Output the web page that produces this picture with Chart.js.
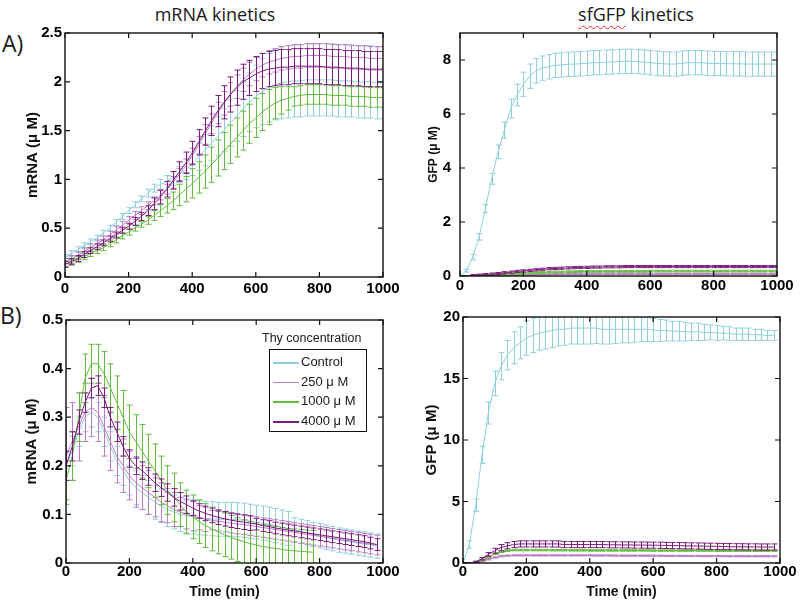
<!DOCTYPE html>
<html lang="en">
<head>
  <meta charset="UTF-8" />
  <title>mRNA and sfGFP kinetics</title>
  <script src="https://cdn.jsdelivr.net/npm/chart.js"></script>
  <style>
    body { margin: 0; background: #fff; }
    #fig { position: relative; width: 800px; height: 603px; overflow: hidden; color: #1a1a1a;
           font-family: 'Liberation Sans', Arial, sans-serif; }
    #fig canvas { position: absolute; }
    .head { position: absolute; top: 2px; font-family: 'Open Sans', sans-serif; font-size: 18px; text-align: center; }
    .squiggle { text-decoration: underline wavy #e03030; text-decoration-thickness: 1px; text-underline-offset: 4px; }
    .tag { position: absolute; font-family: 'Open Sans', sans-serif; font-size: 23px; line-height: 1; }
    #legend-title { position: absolute; left: 262px; top: 330px; font-size: 12.5px; line-height: 16px; }
    #legend { position: absolute; left: 269px; top: 349px; width: 96px; height: 81px; border: 1.5px solid #111; }
    #legend .row { position: absolute; left: 0; height: 16px; line-height: 16px; font-size: 13px; }
    #legend .swatch { position: absolute; left: 3px; top: 8px; width: 26px; height: 1.5px; }
    #legend .label { position: absolute; left: 31px; white-space: nowrap; }
  </style>
</head>
<body>
<div id="fig">
  <div class="head" style="left:0;width:430px">mRNA kinetics</div>
  <div class="head" style="left:536px;width:200px"><span class="squiggle">sfGFP</span> kinetics</div>
  <div class="tag" style="left:2px;top:32px">A)</div>
  <div class="tag" style="left:0;top:304px">B)</div>

  <canvas id="mrnaA" width="400" height="280" style="left:0;top:20px"></canvas>
  <canvas id="gfpA" width="400" height="280" style="left:400px;top:20px"></canvas>
  <canvas id="mrnaB" width="400" height="298" style="left:0;top:305px"></canvas>
  <canvas id="gfpB" width="400" height="298" style="left:400px;top:305px"></canvas>

  <div id="legend-title">Thy concentration</div>
  <div id="legend"></div>
</div>

<script>
  // series
  const seriesNames = ['Control', '250 \u03bc M', '1000 \u03bc M', '4000 \u03bc M'];
  const seriesColors = ['#8fd0da', '#b97cc4', '#62bd3c', '#7c1a7c'];

  // ticks
  const xTicks = [0, 200, 400, 600, 800, 1000];
  const yTicksMrnaA = [0, 0.5, 1, 1.5, 2, 2.5];
  const yTicksGfpA = [0, 2, 4, 6, 8];
  const yTicksMrnaB = [0, 0.1, 0.2, 0.3, 0.4, 0.5];
  const yTicksGfpB = [0, 5, 10, 15, 20];

  // time points (min)
  const timeA = [0,20,40,60,80,100,120,140,160,180,200,220,240,260,280,300,320,340,360,380,400,420,440,460,480,500,
                 520,540,560,580,600,620,640,660,680,700,720,740,760,780,800,820,840,860,880,900,920,940,960,980,1000];
  const timeB = [0,20,40,60,80,100,120,140,160,180,200,220,240,260,280,300,320,340,360,380,400,420,440,460,480,500,
                 520,540,560,580,600,620,640,660,680,700,720,740,760,780,800,820,840,860,880,900,920,940,960,980];

  // A) mRNA, mean and error
  const mrnaA_ctrl = [.20,.24,.28,.32,.36,.40,.45,.50,.56,.62, .68,.74,.80,.86,.91,.95,.98,1.01,1.05,1.10,
                      1.16,1.23,1.30,1.37,1.44,1.51,1.58,1.65,1.72,1.79, 1.85,1.90,1.94,1.97,1.99,2.00,2.01,2.01,2.02,2.02,
                      2.02,2.02,2.02,2.01,2.01,2.01,2.00,2.00,2.00,1.99,1.99];
  const mrnaA_ctrl_err = [.03,.03,.03,.03,.03,.03,.03,.03,.03,.03, .03,.03,.03,.04,.04,.05,.06,.07,.08,.10,
                          .12,.14,.16,.18,.20,.22,.24,.26,.28,.30, .32,.34,.35,.36,.37,.37,.37,.37,.37,.37,
                          .37,.37,.37,.37,.37,.37,.37,.37,.37,.37,.37];
  const mrnaA_250 = [.15,.18,.22,.26,.30,.34,.38,.43,.48,.53, .58,.63,.68,.73,.78,.84,.90,.97,1.05,1.14,
                     1.24,1.35,1.46,1.57,1.68,1.78,1.87,1.95,2.02,2.08, 2.13,2.17,2.20,2.22,2.24,2.25,2.26,2.26,2.27,2.27,
                     2.27,2.27,2.26,2.26,2.26,2.25,2.25,2.25,2.24,2.24,2.24];
  const mrnaA_250_err = [.04,.04,.04,.04,.04,.04,.04,.04,.04,.04, .04,.04,.04,.04,.04,.05,.05,.06,.06,.07,
                         .08,.09,.10,.10,.11,.12,.12,.12,.12,.12, .12,.12,.12,.12,.12,.12,.12,.12,.12,.12,
                         .12,.12,.12,.12,.12,.12,.12,.12,.12,.12,.12];
  const mrnaA_1000 = [.13,.15,.18,.21,.24,.27,.30,.34,.38,.42, .46,.50,.54,.58,.63,.68,.73,.78,.84,.90,
                      .96,1.02,1.08,1.15,1.22,1.29,1.36,1.43,1.50,1.57, 1.63,1.69,1.74,1.78,1.81,1.83,1.85,1.86,1.87,1.87,
                      1.87,1.87,1.86,1.86,1.86,1.85,1.85,1.85,1.84,1.84,1.84];
  const mrnaA_1000_err = [.03,.03,.03,.03,.03,.03,.03,.03,.03,.03, .03,.03,.03,.04,.05,.06,.075,.09,.11,.13,
                          .15,.16,.17,.18,.185,.19,.195,.20,.20,.20, .20,.19,.18,.16,.14,.12,.10,.10,.10,.10,
                          .10,.10,.10,.10,.10,.10,.10,.10,.10,.10,.10];
  const mrnaA_4000 = [.13,.16,.19,.23,.27,.31,.35,.39,.43,.48, .52,.57,.62,.68,.75,.82,.90,.99,1.08,1.17,
                      1.27,1.38,1.49,1.60,1.70,1.79,1.87,1.94,2.00,2.04, 2.08,2.11,2.13,2.14,2.15,2.15,2.16,2.16,2.16,2.16,
                      2.16,2.15,2.15,2.15,2.14,2.14,2.14,2.13,2.13,2.13,2.13];
  const mrnaA_4000_err = [.03,.03,.03,.03,.03,.03,.03,.03,.03,.03, .03,.04,.04,.05,.06,.07,.08,.09,.10,.11,
                          .12,.13,.14,.15,.16,.17,.18,.18,.18,.18, .18,.18,.18,.18,.18,.18,.18,.18,.18,.18,
                          .18,.18,.18,.18,.18,.18,.18,.18,.18,.18,.18];

  // A) sfGFP
  const gfpA_ctrl = [0,.2,.7,1.45,2.5,3.6,4.6,5.4,6.2,6.7, 7.1,7.4,7.6,7.7,7.75,7.8,7.82,7.84,7.85,7.86,
                     7.88,7.9,7.9,7.92,7.93,7.94,7.95,7.95,7.94,7.92, 7.9,7.88,7.86,7.85,7.85,7.88,7.9,7.9,7.9,7.88,
                     7.87,7.87,7.86,7.86,7.86,7.85,7.85,7.85,7.85,7.85,7.85];
  const gfpA_ctrl_err = [0,.05,.1,.12,.15,.2,.25,.3,.35,.4, .45,.45,.45,.45,.45,.45,.45,.45,.45,.45,
                         .45,.45,.45,.45,.45,.45,.45,.45,.45,.45, .45,.45,.45,.45,.45,.45,.45,.45,.45,.45,
                         .45,.45,.45,.45,.45,.45,.45,.45,.45,.45,.45];
  const gfpA_250 = [0,0,.01,.01,.02,.02,.03,.03,.04,.04, .05,.05,.06,.06,.06,.07,.07,.07,.07,.08,
                    .08,.08,.08,.08,.08,.08,.08,.08,.08,.08, .08,.08,.08,.08,.08,.08,.08,.08,.08,.08,
                    .08,.08,.08,.08,.08,.08,.08,.08,.08,.08,.08];
  const gfpA_250_err = [0,0,.02,.02,.02,.02,.02,.02,.02,.02, .02,.02,.02,.02,.02,.02,.02,.02,.02,.02,
                        .02,.02,.02,.02,.02,.02,.02,.02,.02,.02, .02,.02,.02,.02,.02,.02,.02,.02,.02,.02,
                        .02,.02,.02,.02,.02,.02,.02,.02,.02,.02,.02];
  const gfpA_1000 = [0,0,.01,.02,.03,.04,.05,.06,.08,.09, .10,.11,.12,.13,.14,.15,.15,.16,.16,.17,
                     .17,.17,.17,.17,.17,.17,.17,.17,.17,.17, .18,.18,.18,.18,.18,.18,.18,.18,.18,.18,
                     .18,.18,.18,.18,.18,.18,.18,.18,.18,.18,.18];
  const gfpA_1000_err = [0,0,.03,.03,.03,.03,.03,.03,.03,.03, .03,.03,.03,.03,.03,.03,.03,.03,.03,.03,
                         .03,.03,.03,.03,.03,.03,.03,.03,.03,.03, .03,.03,.03,.03,.03,.03,.03,.03,.03,.03,
                         .03,.03,.03,.03,.03,.03,.03,.03,.03,.03,.03];
  const gfpA_4000 = [0,0,.01,.03,.05,.07,.09,.12,.14,.17, .19,.21,.23,.25,.27,.28,.29,.30,.31,.32,
                     .32,.33,.33,.34,.34,.34,.35,.35,.35,.35, .35,.35,.35,.35,.35,.35,.35,.35,.35,.35,
                     .35,.35,.35,.35,.35,.35,.35,.35,.35,.35,.35];
  const gfpA_4000_err = [0,0,.04,.04,.04,.04,.04,.04,.04,.04, .04,.04,.04,.04,.04,.04,.04,.04,.04,.04,
                         .04,.04,.04,.04,.04,.04,.04,.04,.04,.04, .04,.04,.04,.04,.04,.04,.04,.04,.04,.04,
                         .04,.04,.04,.04,.04,.04,.04,.04,.04,.04,.04];

  // B) mRNA
  const mrnaB_ctrl = [.20,.23,.27,.30,.31,.30,.27,.24,.21,.19, .17,.155,.145,.135,.125,.118,.11,.105,.10,.097,
                      .095,.093,.092,.091,.09,.09,.09,.089,.088,.086, .084,.082,.08,.077,.074,.071,.068,.065,.062,.059,
                      .056,.053,.05,.047,.045,.043,.041,.039,.037,.035];
  const mrnaB_ctrl_err = [.03,.03,.03,.03,.03,.03,.03,.03,.03,.03, .03,.035,.035,.035,.035,.035,.035,.035,.035,.035,
                          .035,.035,.035,.035,.035,.035,.035,.035,.035,.035, .035,.035,.035,.035,.035,.035,.025,.025,.025,.025,
                          .025,.025,.025,.025,.025,.025,.025,.025,.025,.025];
  const mrnaB_250 = [.22,.25,.28,.31,.32,.31,.28,.25,.22,.20, .18,.165,.155,.145,.135,.125,.118,.11,.105,.10,
                     .096,.093,.09,.088,.086,.084,.082,.08,.079,.077, .075,.073,.071,.069,.067,.065,.063,.061,.059,.057,
                     .055,.053,.051,.049,.047,.045,.043,.041,.039,.037];
  const mrnaB_250_err = [.10,.08,.07,.06,.06,.06,.06,.06,.055,.055, .05,.05,.045,.045,.04,.04,.035,.035,.03,.03,
                         .03,.025,.025,.02,.02,.02,.02,.02,.02,.02, .02,.02,.02,.02,.02,.02,.02,.02,.02,.02,
                         .02,.02,.02,.02,.02,.02,.02,.02,.02,.02];
  const mrnaB_1000 = [.17,.22,.30,.38,.41,.41,.39,.36,.33,.30, .27,.25,.23,.21,.19,.17,.15,.135,.12,.105,
                      .095,.085,.077,.07,.064,.058,.053,.048,.044,.04, .037,.034,.032,.03,.028,.026,.025,.024,.023,.022,
                      null,null,null,null,null,null,null,null,null,null];
  const mrnaB_1000_err = [.04,.05,.05,.05,.04,.04,.045,.05,.055,.055, .055,.055,.055,.055,.055,.05,.05,.05,.045,.045,
                          .045,.045,.045,.045,.045,.045,.045,.045,.045,.045, .045,.045,.045,.045,.045,.045,.045,.045,.045,.045,
                          null,null,null,null,null,null,null,null,null,null];
  const mrnaB_4000 = [.20,.24,.29,.33,.36,.365,.34,.30,.27,.24, .215,.20,.19,.178,.165,.155,.145,.135,.127,.12,
                      .113,.107,.102,.098,.094,.091,.088,.086,.084,.082, .08,.077,.075,.072,.07,.068,.066,.064,.062,.06,
                      .058,.056,.054,.052,.05,.048,.046,.044,.041,.038];
  const mrnaB_4000_err = [.03,.03,.025,.02,.02,.02,.02,.02,.02,.02, .018,.018,.018,.018,.018,.018,.018,.018,.018,.018,
                          .015,.015,.015,.015,.015,.015,.015,.015,.015,.015, .012,.012,.012,.012,.012,.012,.012,.012,.012,.012,
                          .012,.012,.012,.012,.012,.012,.012,.012,.012,.012];

  // B) sfGFP
  const gfpB_ctrl = [0,1.5,4.7,8.8,12.2,14.6,16,16.9,17.5,17.9, 18.3,18.5,18.7,18.8,18.9,19,19,19.1,19.1,19.1,
                     19.1,19.1,19,19,19,19,19,19,19,19, 18.95,18.9,18.9,18.85,18.85,18.8,18.8,18.8,18.75,18.75,
                     18.7,18.7,18.65,18.6,18.6,18.6,18.55,18.55,18.5,18.5];
  const gfpB_ctrl_err = [0,.3,.5,.7,.9,1,1.1,1.2,1.3,1.3, 1.4,1.4,1.4,1.4,1.4,1.35,1.3,1.3,1.3,1.3,
                         1.3,1.25,1.2,1.2,1.15,1.1,1.1,1.05,1,1, .95,.9,.85,.8,.8,.75,.7,.7,.65,.6,
                         .6,.55,.55,.5,.5,.5,.45,.45,.4,.4];
  const gfpB_250 = [0,0,.05,.15,.3,.45,.55,.6,.62,.62, .62,.62,.62,.62,.62,.62,.62,.62,.62,.62,
                    .62,.61,.61,.61,.6,.6,.6,.6,.6,.6, .59,.59,.58,.58,.58,.57,.57,.57,.56,.56,
                    .56,.56,.55,.55,.55,.55,.55,.55,.55,.55];
  const gfpB_250_err = [0,0,.03,.05,.05,.05,.05,.05,.05,.05, .05,.05,.05,.05,.05,.05,.05,.05,.05,.05,
                        .05,.05,.05,.05,.05,.05,.05,.05,.05,.05, .05,.05,.05,.05,.05,.05,.05,.05,.05,.05,
                        .05,.05,.05,.05,.05,.05,.05,.05,.05,.05];
  const gfpB_1000 = [0,0,.08,.25,.5,.75,.9,1,1.05,1.05, 1.05,1.05,1.05,1.05,1.04,1.04,1.04,1.03,1.03,1.03,
                     1.02,1.02,1.02,1.02,1.02,1.02,1.02,1.02,1.02,1.02, 1.01,1.01,1.01,1.01,1.01,1.01,1.01,1.01,1.01,1.01,
                     1,1,1,1,1,1,1,1,1,1];
  const gfpB_1000_err = [0,0,.03,.05,.05,.06,.06,.06,.06,.06, .06,.06,.06,.06,.06,.06,.06,.06,.06,.06,
                         .06,.06,.06,.06,.06,.06,.06,.06,.06,.06, .06,.06,.06,.06,.06,.06,.06,.06,.06,.06,
                         .06,.06,.06,.06,.06,.06,.06,.06,.06,.06];
  const gfpB_4000 = [0,0,.1,.35,.7,1,1.25,1.4,1.5,1.55, 1.55,1.55,1.55,1.55,1.55,1.55,1.5,1.5,1.5,1.5,
                     1.5,1.5,1.5,1.48,1.48,1.47,1.47,1.46,1.46,1.45, 1.45,1.44,1.43,1.42,1.41,1.4,1.39,1.38,1.37,1.36,
                     1.35,1.34,1.33,1.32,1.32,1.31,1.31,1.3,1.3,1.3];
  const gfpB_4000_err = [0,0,.05,.1,.15,.2,.25,.25,.25,.25, .25,.25,.25,.25,.25,.25,.25,.25,.25,.25,
                         .25,.25,.25,.25,.25,.25,.25,.25,.25,.25, .25,.25,.25,.25,.25,.25,.25,.25,.25,.25,
                         .25,.25,.25,.25,.25,.25,.25,.25,.25,.25];

  const ink = '#111';
  Chart.defaults.font.family = "'Liberation Sans', Arial, sans-serif";
  Chart.defaults.font.weight = 'bold';
  Chart.defaults.font.size = 15;
  Chart.defaults.color = ink;

  // error bars are drawn just before each series' line, clipped to the axes box
  const errorBars = {
    id: 'errorBars',
    beforeDatasetDraw(chart, args) {
      const ds = chart.data.datasets[args.index];
      const { ctx, chartArea: a, scales: { x, y } } = chart;
      ctx.save();
      ctx.beginPath();
      ctx.rect(a.left, a.top, a.right - a.left, a.bottom - a.top);
      ctx.clip();
      ctx.strokeStyle = ds.borderColor;
      ctx.lineWidth = 1;
      ctx.beginPath();
      ds.data.forEach((p, i) => {
        const e = ds.err[i];
        if (p.y === null || e === null) return;
        const px = Math.round(x.getPixelForValue(p.x)) + 0.5;
        const hi = y.getPixelForValue(p.y + e);
        const lo = y.getPixelForValue(p.y - e);
        ctx.moveTo(px, hi); ctx.lineTo(px, lo);
        ctx.moveTo(px - 3, hi); ctx.lineTo(px + 3, hi);
        ctx.moveTo(px - 3, lo); ctx.lineTo(px + 3, lo);
      });
      ctx.stroke();
      ctx.restore();
    }
  };

  // matlab style box with inward ticks on all four sides
  const frame = {
    id: 'frame',
    afterDraw(chart) {
      const { ctx, chartArea: a, scales: { x, y } } = chart;
      ctx.save();
      ctx.strokeStyle = ink;
      ctx.lineWidth = 1.4;
      ctx.strokeRect(a.left, a.top, a.right - a.left, a.bottom - a.top);
      ctx.lineWidth = 1.2;
      ctx.beginPath();
      x.ticks.forEach(t => {
        const px = x.getPixelForValue(t.value);
        ctx.moveTo(px, a.bottom); ctx.lineTo(px, a.bottom - 5);
        ctx.moveTo(px, a.top); ctx.lineTo(px, a.top + 5);
      });
      y.ticks.forEach(t => {
        const py = y.getPixelForValue(t.value);
        ctx.moveTo(a.left, py); ctx.lineTo(a.left + 5, py);
        ctx.moveTo(a.right, py); ctx.lineTo(a.right - 5, py);
      });
      ctx.stroke();
      ctx.restore();
    }
  };

  function panel(id, times, means, errs, yMax, yTicks, o) {
    const datasets = means.map((m, k) => ({
      label: seriesNames[k],
      data: times.map((t, i) => ({ x: t, y: m[i] })),
      err: errs[k],
      borderColor: seriesColors[k],
      borderWidth: 1,
      pointRadius: 0,
      spanGaps: false,
      order: means.length - k
    }));
    new Chart(document.getElementById(id), {
      type: 'line',
      data: { datasets },
      options: {
        responsive: false,
        animation: false,
        events: [],
        layout: { padding: { top: o.padTop, right: o.padRight, left: 0, bottom: 0 } },
        plugins: { legend: { display: false }, tooltip: { enabled: false } },
        scales: {
          x: {
            type: 'linear', min: 0, max: 1000,
            grid: { display: false, drawTicks: false }, border: { display: false },
            afterBuildTicks: s => { s.ticks = xTicks.map(v => ({ value: v })); },
            afterFit: s => { s.height = o.xHeight; s.paddingLeft = 0; s.paddingRight = 0; },
            ticks: { font: { size: 15, weight: 'bold' }, color: '#000',
                     padding: o.xPad, maxRotation: 0, autoSkip: false, callback: v => String(v) },
            title: {
              display: !!o.xTitle, text: o.xTitle || '', color: ink,
              font: { size: 14, weight: 'bold' },
              padding: { top: 0, bottom: 2 }
            }
          },
          y: {
            type: 'linear', min: 0, max: yMax,
            grid: { display: false, drawTicks: false }, border: { display: false },
            afterBuildTicks: s => { s.ticks = yTicks.map(v => ({ value: v })); },
            afterFit: s => { s.width = o.yWidth; s.paddingTop = 0; s.paddingBottom = 0; },
            ticks: { font: { size: 15, weight: 'bold' }, color: '#000',
                     padding: o.yPad, autoSkip: false, callback: v => String(v) },
            title: {
              display: true, text: o.yTitle, color: ink,
              font: { size: o.yTitleSize, weight: 'bold' },
              padding: { top: o.yTitlePad, bottom: 0 }
            }
          }
        }
      },
      plugins: [errorBars, frame]
    });
  }

  panel('mrnaA', timeA,
    [mrnaA_ctrl, mrnaA_250, mrnaA_1000, mrnaA_4000],
    [mrnaA_ctrl_err, mrnaA_250_err, mrnaA_1000_err, mrnaA_4000_err],
    2.5, yTicksMrnaA,
    { padTop: 13, padRight: 17, yWidth: 65, xHeight: 23, xPad: 3, yPad: 3,
      yTitle: 'mRNA (\u03bc M)', yTitleSize: 15, yTitlePad: 24 });

  panel('gfpA', timeA,
    [gfpA_ctrl, gfpA_250, gfpA_1000, gfpA_4000],
    [gfpA_ctrl_err, gfpA_250_err, gfpA_1000_err, gfpA_4000_err],
    9, yTicksGfpA,
    { padTop: 13, padRight: 23, yWidth: 60, xHeight: 24, xPad: 1, yPad: 9,
      yTitle: 'GFP (\u03bc M)', yTitleSize: 12, yTitlePad: 26 });

  panel('mrnaB', timeB,
    [mrnaB_ctrl, mrnaB_250, mrnaB_1000, mrnaB_4000],
    [mrnaB_ctrl_err, mrnaB_250_err, mrnaB_1000_err, mrnaB_4000_err],
    0.5, yTicksMrnaB,
    { padTop: 15, padRight: 17, yWidth: 66, xHeight: 40, xPad: 0, yPad: 3,
      yTitle: 'mRNA (\u03bc M)', yTitleSize: 15, yTitlePad: 23, xTitle: 'Time (min)' });

  panel('gfpB', timeB,
    [gfpB_ctrl, gfpB_250, gfpB_1000, gfpB_4000],
    [gfpB_ctrl_err, gfpB_250_err, gfpB_1000_err, gfpB_4000_err],
    20, yTicksGfpB,
    { padTop: 12, padRight: 20, yWidth: 63, xHeight: 40, xPad: 0, yPad: 3,
      yTitle: 'GFP (\u03bc M)', yTitleSize: 15, yTitlePad: 23, xTitle: 'Time (min)' });

  // legend inside panel B mRNA
  const legend = document.getElementById('legend');
  seriesNames.forEach((name, k) => {
    const row = document.createElement('div');
    row.className = 'row';
    row.style.top = (4 + k * 19.7) + 'px';
    row.innerHTML = '<span class="swatch" style="background:' + seriesColors[k] + '"></span>' +
                    '<span class="label">' + name + '</span>';
    legend.appendChild(row);
  });
</script>
</body>
</html>
